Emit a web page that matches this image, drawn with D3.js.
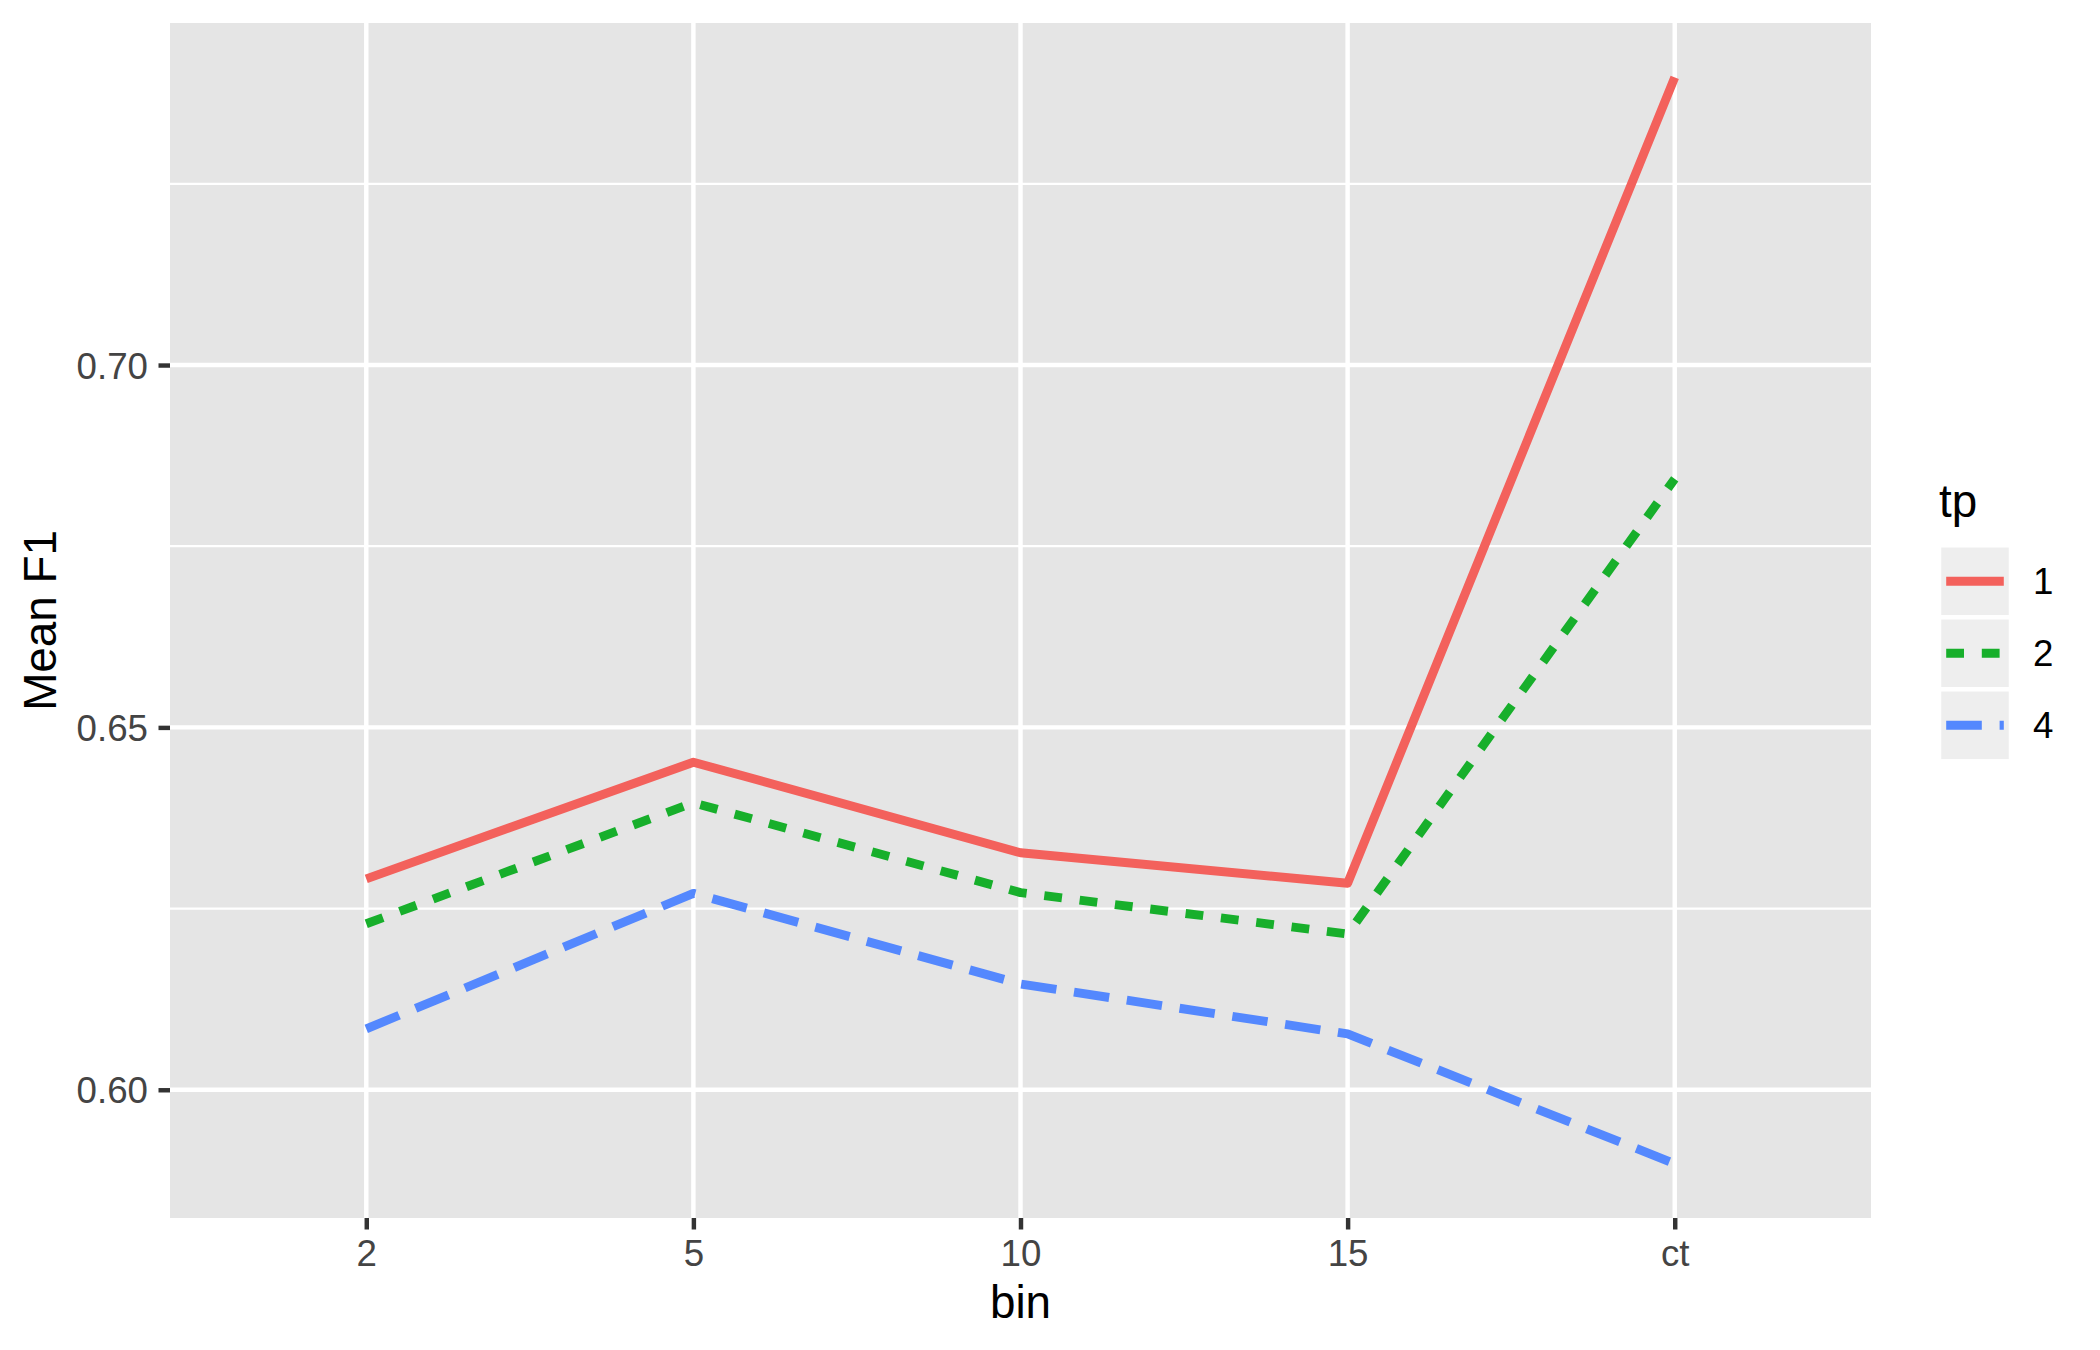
<!DOCTYPE html>
<html>
<head>
<meta charset="utf-8">
<script src="https://cdn.jsdelivr.net/npm/d3@7"></script>
<style>
  html, body { margin: 0; padding: 0; background: #ffffff; }
  svg { display: block; }
  text { font-family: "Liberation Sans", Arial, Helvetica, sans-serif; }
</style>
</head>
<body>
<svg id="chart" width="2100" height="1350"></svg>
<script>
// ---- data ----
const categories = ["2", "5", "10", "15", "ct"];
const seriesNames = ["1", "2", "4"];
const values_tp1 = [0.6291, 0.6452, 0.6327, 0.6285, 0.7397];
const values_tp2 = [0.6229, 0.6396, 0.6272, 0.6215, 0.6843];
const values_tp4 = [0.6084, 0.6271, 0.6146, 0.6077, 0.5898];
const yTickValues = [0.60, 0.65, 0.70];
const yTickLabels = ["0.60", "0.65", "0.70"];
const yMinorValues = [0.625, 0.675, 0.725];
const xTitle = "bin";
const yTitle = "Mean F1";
const legendTitle = "tp";

const series = [
  { name: seriesNames[0], values: values_tp1, color: "#F3615C", dash: null },
  { name: seriesNames[1], values: values_tp2, color: "#17AF2B", dash: "17.8,17.8" },
  { name: seriesNames[2], values: values_tp4, color: "#5488FE", dash: "35.6,17.8" }
];

// ---- layout ----
const panel = { left: 170, right: 1871, top: 23, bottom: 1218 };
const lineW = 8.9;
const majorW = 4.45, minorW = 2.2;

const svg = d3.select("#chart");
svg.append("rect").attr("width", 2100).attr("height", 1350).attr("fill", "#ffffff");

const x = d3.scalePoint().domain(categories).range([panel.left, panel.right]).padding(0.6);

const allVals = [].concat(values_tp1, values_tp2, values_tp4);
const yMin = d3.min(allVals), yMax = d3.max(allVals);
const ex = (yMax - yMin) * 0.05;
const y = d3.scaleLinear().domain([yMin - ex, yMax + ex]).range([panel.bottom, panel.top]);

// panel background
svg.append("rect")
  .attr("x", panel.left).attr("y", panel.top)
  .attr("width", panel.right - panel.left).attr("height", panel.bottom - panel.top)
  .attr("fill", "#E5E5E5");

const grid = svg.append("g");
grid.selectAll("line.minor").data(yMinorValues).enter().append("line")
  .attr("x1", panel.left).attr("x2", panel.right)
  .attr("y1", d => y(d)).attr("y2", d => y(d))
  .attr("stroke", "#ffffff").attr("stroke-width", minorW);
grid.selectAll("line.majy").data(yTickValues).enter().append("line")
  .attr("x1", panel.left).attr("x2", panel.right)
  .attr("y1", d => y(d)).attr("y2", d => y(d))
  .attr("stroke", "#ffffff").attr("stroke-width", majorW);
grid.selectAll("line.majx").data(categories).enter().append("line")
  .attr("x1", d => x(d)).attr("x2", d => x(d))
  .attr("y1", panel.top).attr("y2", panel.bottom)
  .attr("stroke", "#ffffff").attr("stroke-width", majorW);

// lines
const lineGen = d3.line().x((d, i) => x(categories[i])).y(d => y(d));
series.forEach(s => {
  const p = svg.append("path")
    .attr("d", lineGen(s.values))
    .attr("fill", "none")
    .attr("stroke", s.color)
    .attr("stroke-width", lineW)
    .attr("stroke-linejoin", "round")
    .attr("stroke-linecap", "butt");
  if (s.dash) p.attr("stroke-dasharray", s.dash);
});

// x axis
const xAxis = d3.axisBottom(x).tickSize(11.5).tickPadding(0);
const gx = svg.append("g").attr("transform", `translate(0,${panel.bottom})`).call(xAxis);
gx.select(".domain").remove();
gx.selectAll(".tick line").attr("stroke", "#333333").attr("stroke-width", majorW);
gx.selectAll(".tick text")
  .attr("y", 48).attr("dy", null)
  .attr("fill", "#444444").style("font-size", "36.7px");

// y axis
const yAxis = d3.axisLeft(y).tickValues(yTickValues)
  .tickFormat((d, i) => yTickLabels[i]).tickSize(11.5).tickPadding(0);
const gy = svg.append("g").attr("transform", `translate(${panel.left},0)`).call(yAxis);
gy.select(".domain").remove();
gy.selectAll(".tick line").attr("stroke", "#333333").attr("stroke-width", majorW);
gy.selectAll(".tick text")
  .attr("x", -22).attr("dy", "13px")
  .attr("fill", "#444444").style("font-size", "36.7px");

// axis titles
svg.append("text")
  .attr("x", (panel.left + panel.right) / 2).attr("y", 1318)
  .attr("text-anchor", "middle").attr("fill", "#000000")
  .style("font-size", "45.8px").text(xTitle);
svg.append("text")
  .attr("transform", `translate(56,${(panel.top + panel.bottom) / 2}) rotate(-90)`)
  .attr("text-anchor", "middle").attr("fill", "#000000")
  .style("font-size", "45.8px").text(yTitle);

// legend
const leg = svg.append("g");
leg.append("text").attr("x", 1939).attr("y", 517)
  .attr("fill", "#000000").style("font-size", "45.8px").text(legendTitle);
const keyX = 1939, keyY0 = 545.3, keyS = 72;
series.forEach((s, i) => {
  const ky = keyY0 + i * keyS;
  leg.append("rect").attr("x", keyX).attr("y", ky).attr("width", keyS).attr("height", keyS)
    .attr("fill", "#EEEEEE").attr("stroke", "#ffffff").attr("stroke-width", majorW);
  const l = leg.append("line")
    .attr("x1", keyX + keyS * 0.1).attr("x2", keyX + keyS * 0.9)
    .attr("y1", ky + keyS / 2).attr("y2", ky + keyS / 2)
    .attr("stroke", s.color).attr("stroke-width", lineW).attr("stroke-linecap", "butt");
  if (s.dash) l.attr("stroke-dasharray", s.dash);
  leg.append("text").attr("x", 2033).attr("y", ky + keyS / 2 + 13)
    .attr("fill", "#000000").style("font-size", "36.7px").text(s.name);
});
</script>
</body>
</html>
